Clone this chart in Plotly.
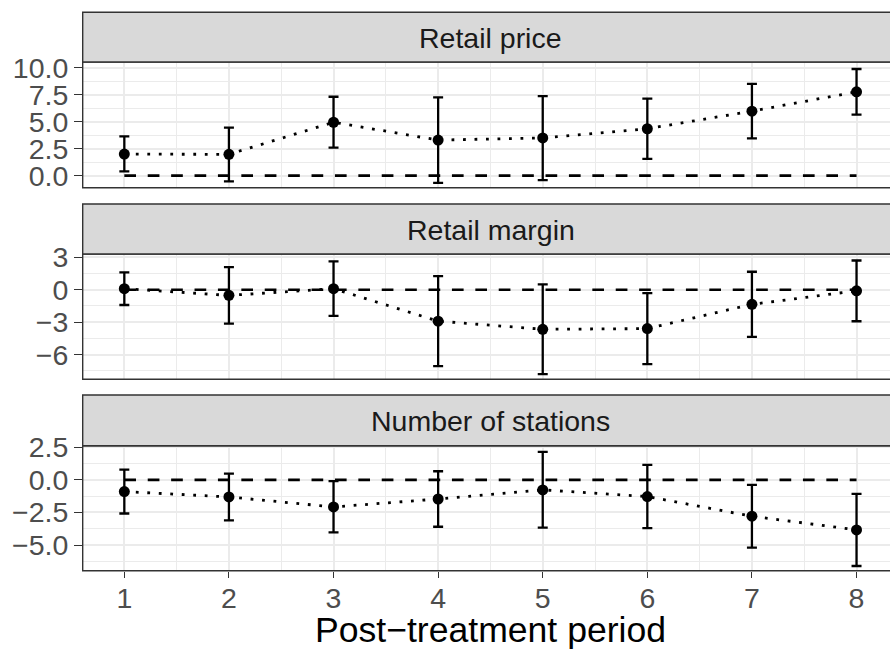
import plotly.graph_objects as go

# ---------------- data ----------------
periods = [1, 2, 3, 4, 5, 6, 7, 8]
panel_titles = ["Retail price", "Retail margin", "Number of stations"]

price_est = [2.0, 1.98, 4.95, 3.3, 3.5, 4.35, 5.98, 7.77]
price_lo = [0.40, -0.52, 2.60, -0.67, -0.40, 1.56, 3.46, 5.66]
price_hi = [3.64, 4.46, 7.31, 7.25, 7.37, 7.13, 8.50, 9.88]

margin_est = [0.10, -0.52, 0.10, -2.90, -3.65, -3.59, -1.35, -0.10]
margin_lo = [-1.41, -3.13, -2.42, -7.06, -7.79, -6.87, -4.36, -2.91]
margin_hi = [1.60, 2.09, 2.61, 1.26, 0.49, -0.31, 1.66, 2.70]

stations_est = [-0.90, -1.31, -2.08, -1.47, -0.77, -1.28, -2.79, -3.84]
stations_lo = [-2.58, -3.11, -4.03, -3.60, -3.67, -3.70, -5.20, -6.61]
stations_hi = [0.79, 0.48, -0.10, 0.66, 2.14, 1.15, -0.38, -1.07]

price_ticks = [0, 2.5, 5, 7.5, 10]
price_ticktext = ["0.0", "2.5", "5.0", "7.5", "10.0"]
margin_ticks = [-6, -3, 0, 3]
margin_ticktext = ["\u22126", "\u22123", "0", "3"]
stations_ticks = [-5, -2.5, 0, 2.5]
stations_ticktext = ["\u22125.0", "\u22122.5", "0.0", "2.5"]

x_ticktext = ["1", "2", "3", "4", "5", "6", "7", "8"]
x_title = "Post\u2212treatment period"

# ---------------- layout geometry (pixels) ----------------
W, H = 890, 651
left_px = 82.7
panels_px = [(62.0, 187.7), (254.0, 379.3), (445.7, 570.7)]
strips_px = [(12.3, 62.0), (204.0, 254.0), (395.0, 445.7)]
y_ranges = [[-1.11, 10.53], [-8.27, 3.30], [-6.97, 2.62]]
x_range = [0.602, 8.32]

FONT = "Liberation Sans, Arial, Helvetica, sans-serif"
BORDER = "#333333"
GRID = "#EBEBEB"


def py(px):
    return 1 - px / H


def minor_vals(ticks, rng):
    step = ticks[1] - ticks[0]
    vals = []
    t = ticks[0] - step / 2
    while t > rng[0]:
        vals.append(t)
        t -= step
    t = ticks[0] + step / 2
    while t < rng[1]:
        vals.append(t)
        t += step
    return sorted(vals)


series = [
    (price_est, price_lo, price_hi, price_ticks, price_ticktext),
    (margin_est, margin_lo, margin_hi, margin_ticks, margin_ticktext),
    (stations_est, stations_lo, stations_hi, stations_ticks, stations_ticktext),
]

fig = go.Figure()
layout = dict(
    width=W, height=H,
    margin=dict(l=0, r=0, t=0, b=0),
    template="none",
    paper_bgcolor="white",
    plot_bgcolor="white",
    showlegend=False,
    font=dict(family=FONT, color="#4D4D4D", size=28),
)
shapes = []
annotations = []

x_minor = [p + 0.5 for p in periods[:-1]]

for i, (est, lo, hi, ticks, ticktext) in enumerate(series):
    n = i + 1
    xa = "x" if n == 1 else f"x{n}"
    ya = "y" if n == 1 else f"y{n}"
    top, bot = panels_px[i]

    # zero reference (dashed)
    fig.add_trace(go.Scatter(
        x=periods, y=[0] * len(periods), mode="lines",
        line=dict(color="black", width=2.7, dash="11.7px,11.7px"),
        xaxis=xa, yaxis=ya, hoverinfo="skip"))
    # dotted connecting line
    fig.add_trace(go.Scatter(
        x=periods, y=est, mode="lines",
        line=dict(color="black", width=2.8, dash="2.8px,8.7px"),
        xaxis=xa, yaxis=ya, hoverinfo="skip"))
    # points with error bars
    fig.add_trace(go.Scatter(
        x=periods, y=est, mode="markers",
        marker=dict(color="black", size=11, line=dict(width=0)),
        error_y=dict(type="data", symmetric=False,
                     array=[h - e for h, e in zip(hi, est)],
                     arrayminus=[e - l for e, l in zip(est, lo)],
                     color="black", thickness=2.3, width=5),
        xaxis=xa, yaxis=ya))

    xkey = "xaxis" if n == 1 else f"xaxis{n}"
    ykey = "yaxis" if n == 1 else f"yaxis{n}"
    is_bottom = (n == 3)
    layout[xkey] = dict(
        domain=[left_px / W, 1], range=x_range, anchor=ya,
        tickmode="array", tickvals=periods, ticktext=x_ticktext,
        showticklabels=is_bottom,
        ticks="outside" if is_bottom else "",
        ticklen=6.5, tickwidth=1.4, tickcolor=BORDER,
        ticklabelstandoff=-4,
        tickfont=dict(family=FONT, size=28.5, color="#4D4D4D"),
        showgrid=True, gridcolor=GRID, gridwidth=1.9,
        minor=dict(tickmode="array", tickvals=x_minor, showgrid=True,
                   gridcolor=GRID, gridwidth=1.0, ticks=""),
        zeroline=False, showline=False, automargin=False,
        matches=None if n == 1 else "x",
    )
    layout[ykey] = dict(
        domain=[py(bot), py(top)], range=y_ranges[i], anchor=xa,
        tickmode="array", tickvals=ticks, ticktext=ticktext,
        ticks="outside", ticklen=7.7, tickwidth=1.4, tickcolor=BORDER,
        tickfont=dict(family=FONT, size=28.5, color="#4D4D4D"),
        showgrid=True, gridcolor=GRID, gridwidth=1.9,
        minor=dict(tickmode="array", tickvals=minor_vals(ticks, y_ranges[i]),
                   showgrid=True, gridcolor=GRID, gridwidth=1.0, ticks=""),
        zeroline=False, showline=False, automargin=False,
    )

    # panel border (right side falls outside the picture)
    shapes.append(dict(type="rect", xref="paper", yref="paper",
                       x0=left_px / W, x1=1.02, y0=py(bot), y1=py(top),
                       line=dict(color=BORDER, width=1.4),
                       fillcolor="rgba(0,0,0,0)", layer="above"))
    # strip
    s_top, s_bot = strips_px[i]
    shapes.append(dict(type="rect", xref="paper", yref="paper",
                       x0=left_px / W, x1=1.02, y0=py(s_bot), y1=py(s_top),
                       line=dict(color=BORDER, width=1.4),
                       fillcolor="#D9D9D9", layer="above"))
    annotations.append(dict(
        text=panel_titles[i], xref="paper", yref="paper",
        x=490.5 / W, y=py((s_top + s_bot) / 2 + 1),
        xanchor="center", yanchor="middle", showarrow=False,
        font=dict(family=FONT, size=28.5, color="#1A1A1A")))

annotations.append(dict(
    text=x_title, xref="paper", yref="paper",
    x=490.5 / W, y=py(630), xanchor="center", yanchor="middle",
    showarrow=False, font=dict(family=FONT, size=35.6, color="black")))

layout["shapes"] = shapes
layout["annotations"] = annotations
fig.update_layout(**layout)
fig.write_html(
    "out.html",
    config={"displayModeBar": False},
    post_script="document.body.style.margin='0';document.body.style.overflow='hidden';",
)
